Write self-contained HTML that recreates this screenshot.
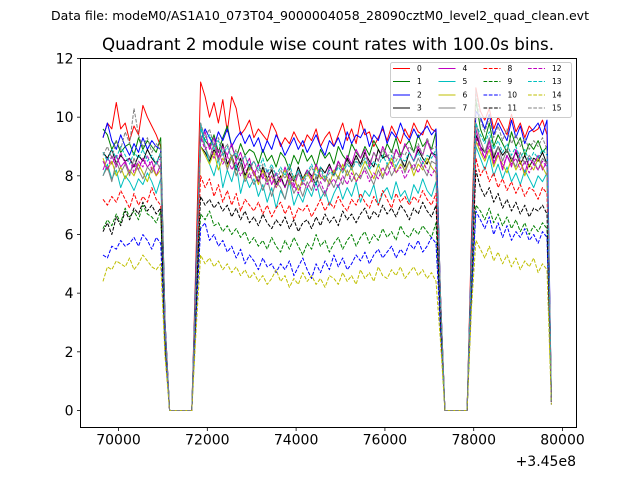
<!DOCTYPE html>
<html><head><meta charset="utf-8"><style>
body{margin:0;background:#fff;}
svg{display:block;font-family:"DejaVu Sans","Liberation Sans",sans-serif;}
</style></head><body>
<svg id="chart" width="640" height="480" viewBox="0 0 640 480">
<text x="320" y="20" font-size="12.5" text-anchor="middle" textLength="538" lengthAdjust="spacingAndGlyphs">Data file: modeM0/AS1A10_073T04_9000004058_28090cztM0_level2_quad_clean.evt</text>
<text x="328" y="50" font-size="16.5" text-anchor="middle" textLength="452" lengthAdjust="spacingAndGlyphs">Quadrant 2 module wise count rates with 100.0s bins.</text>
<g id="plot"></g>
<rect x="80.5" y="58.5" width="496" height="369" fill="none" stroke="#000" stroke-width="1"/>
<g id="axes"></g>
<g id="legend"></g>
<text x="576" y="466" font-size="14" text-anchor="end">+3.45e8</text>
</svg>
<script>
const tStart = 69650;
const binSize = 100;
const xTicks = [70000,72000,74000,76000,78000,80000];
const yTicks = [0,2,4,6,8,10,12];
const seriesNames = ["0","1","2","3","4","5","6","7","8","9","10","11","12","13","14","15"];
const seriesColors = ["#ff0000","#008000","#0000ff","#000000","#bf00bf","#00bfbf","#bfbf00","#808080","#ff0000","#008000","#0000ff","#000000","#bf00bf","#00bfbf","#bfbf00","#808080"];
const s0 = [9.3,9.8,9.6,10.5,9.6,9.8,9.2,9.7,9.4,10.4,10.0,9.7,9.4,9.0, 3.0, 0,0,0,0,0,0, 5.5,
11.2,10.7,10.0,10.5,9.8,10.6,9.5,10.7,10.3,9.4,9.6,9.9,9.3,9.6,9.4,9.2,9.8,9.5,9.0,9.3,9.1,9.5,9.2,9.0,9.4,9.2,9.6,9.0,9.3,9.5,9.0,9.4,9.8,9.2,9.6,9.1,9.9,9.4,9.5,9.0,9.3,9.6,9.2,9.7,9.4,9.1,9.6,9.3,9.8,9.5,9.4,9.9,9.6,9.5,
4.0, 0,0,0,0,0,0, 6.0, 11.0,10.2,9.9,10.3,9.6,10.0,9.7,9.4,10.1,9.5,9.8,9.3,9.7,9.5,9.6,9.9,9.4, 0.3];
const s1 = [9.6,9.4,8.9,9.2,8.8,9.0,9.1,8.7,9.3,8.9,9.2,9.0,8.8,9.3, 3.0, 0,0,0,0,0,0, 5.0,
9.6,9.2,9.0,9.4,8.8,9.3,9.7,9.0,8.6,9.1,8.7,8.9,8.8,8.4,8.9,8.5,8.7,8.3,8.8,8.6,8.2,8.7,8.4,8.9,8.5,8.7,8.3,8.9,8.6,8.8,8.4,9.0,8.7,8.5,9.1,8.8,8.6,9.0,8.7,9.2,8.9,8.6,9.1,8.8,9.3,8.7,9.0,9.2,8.8,9.4,9.0,9.2,8.9,9.5,
4.0, 0,0,0,0,0,0, 5.5, 10.6,9.6,9.2,9.8,9.0,9.4,9.1,8.8,9.5,9.0,9.3,8.7,9.1,8.9,9.2,8.8,9.0, 0.4];
const s2 = [9.3,9.8,9.2,8.9,9.4,9.0,8.7,9.1,8.8,9.3,8.9,9.2,9.0,8.9, 3.0, 0,0,0,0,0,0, 5.0,
9.2,9.6,9.3,9.0,9.5,9.2,9.6,9.0,9.3,9.5,9.1,9.4,9.0,9.3,8.8,9.2,8.9,9.4,9.1,8.7,9.0,9.3,8.9,9.2,8.8,9.1,9.4,9.0,8.7,9.2,9.0,9.3,8.9,9.5,9.1,9.4,9.3,9.6,9.0,9.4,9.2,9.7,9.1,9.5,9.3,9.8,9.4,9.2,9.6,9.3,9.5,9.7,9.4,9.6,
4.0, 0,0,0,0,0,0, 5.5, 10.2,10.0,9.6,10.1,9.4,9.8,9.5,9.2,9.9,9.3,9.7,9.1,9.5,9.6,9.8,9.4,9.9, 0.3];
const s3 = [8.8,8.6,8.9,8.4,8.7,8.5,8.6,8.3,8.7,8.5,8.9,8.6,8.4,8.8, 2.8, 0,0,0,0,0,0, 4.5,
9.0,8.8,8.5,8.9,8.6,9.1,8.4,8.7,8.2,8.6,8.0,8.4,8.1,7.8,8.3,7.9,8.2,7.7,8.0,7.6,8.1,7.8,8.3,7.9,8.2,8.0,7.7,8.3,8.1,8.4,8.0,8.5,8.2,8.6,8.3,8.7,8.4,8.8,8.5,8.3,8.9,8.6,8.7,8.4,8.9,8.6,8.3,8.8,8.5,8.9,8.6,8.4,8.8,8.7,
3.8, 0,0,0,0,0,0, 5.0, 9.4,9.0,8.8,9.2,8.6,9.0,8.7,8.9,8.5,8.8,8.4,8.7,8.3,8.6,8.5,8.8,8.4, 0.3];
const s4 = [8.2,8.6,8.4,8.7,8.3,8.5,8.1,8.4,8.2,8.6,8.3,8.5,8.0,8.4, 2.8, 0,0,0,0,0,0, 4.5,
9.2,9.5,8.9,9.3,8.6,9.0,8.7,9.1,8.5,8.8,8.3,8.6,8.0,8.4,7.9,8.2,7.7,8.1,7.8,8.3,7.9,7.6,8.1,7.8,8.2,7.9,8.4,8.0,7.8,8.3,8.1,8.5,8.2,8.7,8.4,8.9,8.6,8.9,8.3,8.8,8.5,9.0,8.7,8.4,8.9,8.6,9.1,8.8,8.5,9.0,8.7,9.2,8.8,8.6,
4.0, 0,0,0,0,0,0, 5.0, 9.6,9.0,8.6,9.2,8.4,8.8,8.2,8.7,8.3,8.9,8.5,8.1,8.6,8.4,8.7,8.2,8.5, 0.3];
const s5 = [8.0,8.4,7.9,8.2,7.6,8.0,7.8,7.5,7.9,7.7,8.1,7.8,7.4,7.9, 2.6, 0,0,0,0,0,0, 4.5,
9.8,9.0,8.4,8.0,8.6,7.6,8.2,7.8,8.4,7.4,8.0,7.6,7.9,7.3,7.7,7.1,7.6,6.9,7.5,7.2,7.8,7.0,7.4,7.1,7.6,7.3,7.8,7.2,7.5,7.0,7.4,7.7,7.2,7.6,7.3,7.8,7.1,7.5,7.3,7.7,7.0,7.4,7.6,7.2,7.8,7.3,7.5,7.1,7.7,7.4,7.9,7.5,7.3,7.8,
3.5, 0,0,0,0,0,0, 5.0, 9.0,8.6,8.2,8.7,8.0,8.4,7.9,8.3,7.8,8.1,7.7,8.2,7.9,7.6,8.0,7.8,8.1, 0.3];
const s6 = [8.6,8.2,8.5,8.0,8.3,7.9,8.2,8.0,8.4,8.1,7.8,8.3,8.0,8.2, 2.7, 0,0,0,0,0,0, 4.5,
9.0,8.7,8.4,8.8,8.2,8.6,8.3,8.7,8.0,8.4,7.9,8.3,8.1,7.7,8.2,7.8,8.0,7.6,7.9,8.2,7.7,8.0,7.5,7.9,8.1,7.8,8.3,7.9,8.0,7.7,8.2,7.9,8.4,8.0,8.3,7.8,8.1,8.5,8.2,7.9,8.4,8.0,8.3,8.6,8.1,8.4,8.2,8.5,8.0,8.4,8.2,8.6,8.3,8.1,
3.8, 0,0,0,0,0,0, 5.0, 9.2,8.8,8.5,8.9,8.3,8.7,8.4,8.1,8.6,8.2,8.5,8.0,8.4,8.2,8.6,8.3,8.0, 0.3];
const s7 = [8.0,8.3,7.8,8.5,8.1,8.4,8.0,8.6,8.2,7.9,8.3,8.1,8.5,8.2, 2.7, 0,0,0,0,0,0, 4.5,
9.4,9.0,8.6,9.1,8.5,8.8,8.2,8.6,8.0,8.4,7.8,8.1,7.7,8.0,7.5,7.9,7.3,7.8,7.6,7.2,7.9,7.4,7.7,7.3,7.8,7.5,8.0,7.6,7.3,7.9,7.6,8.0,7.7,8.2,7.8,8.1,7.9,8.3,8.0,7.7,8.2,7.9,8.4,8.0,8.3,8.6,8.1,8.5,8.2,8.6,8.3,8.0,8.5,8.4,
3.8, 0,0,0,0,0,0, 5.0, 9.8,9.2,8.8,9.3,8.7,9.0,8.5,8.9,8.6,8.3,8.8,8.4,8.7,8.5,8.2,8.6,8.4, 0.3];
const s8 = [7.2,7.0,7.3,7.1,7.5,7.2,6.9,7.4,7.0,7.3,7.1,7.6,7.2,7.0, 2.4, 0,0,0,0,0,0, 4.0,
8.0,7.6,7.9,7.3,7.7,7.1,7.5,7.0,7.4,6.8,7.2,7.0,6.8,7.1,6.7,7.0,6.6,6.9,7.1,6.7,7.0,6.5,6.9,6.8,7.0,6.6,6.9,7.2,6.8,7.1,6.9,7.3,7.0,6.8,7.2,7.0,7.4,7.1,6.9,7.3,7.0,7.5,7.2,6.9,7.4,7.1,7.3,7.0,7.3,7.1,7.5,7.2,7.0,7.4,
3.3, 0,0,0,0,0,0, 4.5, 8.6,8.0,8.3,7.8,8.1,7.6,7.9,7.5,7.8,7.4,7.7,7.3,7.6,7.5,7.2,7.6,7.4, 0.3];
const s9 = [6.2,6.5,6.3,6.7,6.4,6.9,6.6,6.8,6.5,7.0,6.7,6.6,6.4,6.8, 2.2, 0,0,0,0,0,0, 3.5,
6.7,6.5,6.8,6.3,6.4,6.1,6.3,6.0,6.2,5.9,6.1,5.7,5.9,5.6,5.8,5.5,5.9,5.6,5.4,5.8,5.5,5.9,5.6,5.3,5.7,5.5,6.0,5.6,5.8,5.4,5.7,5.9,5.5,5.8,6.0,5.6,5.9,6.1,5.7,6.0,5.8,6.2,5.9,6.1,5.8,6.3,6.0,5.9,6.2,6.0,6.3,6.1,5.9,6.4,
3.0, 0,0,0,0,0,0, 4.0, 7.0,6.8,6.5,6.9,6.4,6.7,6.3,6.6,6.2,6.5,6.1,6.4,6.0,6.3,6.1,6.4,6.2, 0.3];
const s10 = [5.3,5.2,5.6,5.5,5.8,5.6,5.7,5.9,5.6,6.0,5.8,5.5,5.9,5.7, 2.0, 0,0,0,0,0,0, 3.2,
6.2,6.4,5.8,6.0,5.6,5.8,5.4,5.6,5.2,5.5,5.0,5.3,5.1,4.8,5.2,4.9,5.0,4.7,5.0,4.8,5.1,4.6,4.9,5.2,4.8,4.5,5.0,4.7,5.1,4.8,5.3,4.9,5.2,4.8,5.0,5.3,5.1,5.4,5.0,5.3,5.5,5.2,5.4,5.6,5.2,5.5,5.3,5.7,5.5,5.8,5.4,5.6,5.9,5.7,
2.8, 0,0,0,0,0,0, 3.8, 6.8,6.5,6.2,6.6,6.0,6.4,5.9,6.3,5.8,6.1,5.9,6.2,5.8,6.0,5.7,6.1,5.9, 0.2];
const s11 = [6.1,6.4,6.0,6.6,6.3,6.8,6.5,6.9,6.7,7.1,6.8,7.0,6.7,6.9, 2.3, 0,0,0,0,0,0, 3.8,
7.3,7.0,7.2,6.9,7.1,6.8,7.0,6.6,6.9,6.5,6.8,6.4,6.6,6.3,6.7,6.4,6.2,6.5,6.3,6.6,6.2,6.5,6.1,6.4,6.5,6.2,6.6,6.3,6.7,6.4,6.6,6.3,6.8,6.5,6.7,6.4,6.7,6.9,6.5,6.8,6.6,7.0,6.7,6.9,6.6,7.0,6.8,6.5,6.9,6.7,7.1,6.8,6.6,7.0,
3.2, 0,0,0,0,0,0, 4.5, 8.2,7.6,7.3,7.6,7.1,7.4,6.9,7.2,6.8,7.1,6.7,7.0,6.6,6.9,6.8,7.0,6.7, 0.3];
const s12 = [8.5,8.2,8.7,8.3,8.8,8.4,8.6,8.1,8.5,8.3,8.7,8.2,8.4,8.6, 2.8, 0,0,0,0,0,0, 4.5,
9.3,8.9,9.1,8.6,8.9,8.4,8.7,8.2,8.5,8.0,8.3,7.9,8.2,7.8,8.1,7.7,8.0,7.6,7.9,7.6,8.0,7.7,7.4,7.8,7.6,7.9,7.5,7.8,7.4,7.7,7.9,7.6,8.0,7.7,8.1,7.8,8.0,8.2,7.8,8.1,7.9,8.3,8.0,8.4,8.1,8.3,7.9,8.2,8.4,8.1,8.5,8.2,8.0,8.3,
3.6, 0,0,0,0,0,0, 5.0, 9.3,8.9,8.6,9.0,8.5,8.8,8.3,8.7,8.4,8.6,8.2,8.5,8.1,8.4,8.2,8.5,8.3, 0.3];
const s13 = [8.8,8.5,8.9,8.6,9.0,8.7,8.4,8.8,8.6,8.9,8.5,8.7,8.4,8.8, 2.8, 0,0,0,0,0,0, 4.5,
9.6,9.2,9.4,8.9,9.2,8.7,9.0,8.6,8.8,8.4,8.7,8.3,8.5,8.2,8.6,8.1,8.4,8.0,8.3,8.0,8.4,7.9,8.2,7.8,8.1,8.4,8.0,8.3,7.9,8.2,8.0,8.3,8.1,8.4,8.2,8.5,8.3,8.6,8.2,8.5,8.3,8.7,8.4,8.7,8.3,8.6,8.5,8.8,8.5,8.8,8.4,8.7,8.6,8.9,
3.8, 0,0,0,0,0,0, 5.0, 9.8,9.4,9.1,9.5,8.9,9.2,8.8,9.1,8.7,9.0,8.6,8.9,8.5,8.8,8.6,8.9,8.7, 0.3];
const s14 = [4.4,4.9,4.8,5.1,5.0,4.9,5.2,4.8,5.0,5.3,5.1,4.9,4.8,5.0, 1.8, 0,0,0,0,0,0, 2.8,
5.3,5.0,5.2,4.9,5.1,4.8,5.0,4.7,4.9,4.6,4.8,4.5,4.7,4.4,4.6,4.3,4.5,4.8,4.4,4.6,4.2,4.5,4.3,4.7,4.4,4.6,4.3,4.5,4.2,4.6,4.5,4.3,4.7,4.4,4.6,4.3,4.8,4.5,4.7,4.4,4.9,4.6,4.5,4.8,4.6,4.9,4.5,4.7,4.9,4.6,4.8,4.5,4.7,4.4,
2.4, 0,0,0,0,0,0, 3.5, 5.8,5.5,5.2,5.6,5.1,5.4,5.0,5.3,4.9,5.2,4.8,5.1,4.9,5.2,4.7,5.0,4.8, 0.2];
const s15 = [8.7,9.0,8.6,9.2,8.9,9.5,9.1,10.3,9.4,9.0,9.3,8.8,9.1,8.9, 2.9, 0,0,0,0,0,0, 4.6,
9.8,9.3,9.6,9.0,9.3,8.8,9.1,8.6,8.9,8.4,8.7,8.2,8.5,8.1,8.4,7.9,8.3,7.8,8.2,7.9,8.3,7.8,8.1,7.7,8.0,8.3,7.9,8.2,7.8,8.1,8.0,8.4,8.1,8.5,8.2,8.6,8.3,8.7,8.4,8.8,8.5,8.9,8.6,8.9,8.5,8.8,8.7,9.0,8.8,9.1,8.7,9.3,8.9,9.0,
4.0, 0,0,0,0,0,0, 5.0, 10.9,9.9,9.5,10.0,9.3,9.7,9.2,9.6,9.1,9.4,9.0,9.3,8.9,9.2,9.0,9.3,8.9, 0.3];
const allSeries = [s0,s1,s2,s3,s4,s5,s6,s7,s8,s9,s10,s11,s12,s13,s14,s15];

const NS = "http://www.w3.org/2000/svg";
const PL = 80.5, PR = 576.5, PT = 58.5, PB = 427.5;
const xMin = 69144, xMax = 80315, yMin = -0.58, yMax = 12;
function xs(v){ return PL + (v - xMin) / (xMax - xMin) * (PR - PL); }
function ys(v){ return PB - (v - yMin) / (yMax - yMin) * (PB - PT); }
function mk(tag, attrs, parent){ const e = document.createElementNS(NS, tag); for (const k in attrs) e.setAttribute(k, attrs[k]); parent.appendChild(e); return e; }

const plot = document.getElementById('plot');
allSeries.forEach((arr, si) => {
  const pts = arr.map((v, i) => xs(tStart + i * binSize).toFixed(1) + ',' + ys(v).toFixed(1)).join(' ');
  const pl = mk('polyline', {points: pts, fill: 'none', stroke: seriesColors[si], 'stroke-width': 1, 'stroke-linejoin': 'round'}, plot);
  if (si >= 8) pl.setAttribute('stroke-dasharray', '3.7,1.6');
  
  
});

const axes = document.getElementById('axes');
xTicks.forEach(t => {
  const x = xs(t);
  const tk = mk('line', {x1: x, x2: x, y1: PB, y2: PB + 3.5, stroke: '#000', 'stroke-width': 0.8}, axes);
  
  
  const lb = mk('text', {x: x, y: PB + 17, 'font-size': 14, 'text-anchor': 'middle'}, axes);
  lb.textContent = String(t);
  
  
});
yTicks.forEach(t => {
  const y = ys(t);
  const tk = mk('line', {x1: PL - 3.5, x2: PL, y1: y, y2: y, stroke: '#000', 'stroke-width': 0.8}, axes);
  
  
  const lb = mk('text', {x: PL - 7, y: y + 5, 'font-size': 14, 'text-anchor': 'end'}, axes);
  lb.textContent = String(t);
  
  
});

const leg = document.getElementById('legend');
const box = mk('rect', {x: 390.5, y: 62.5, width: 181, height: 55, rx: 2, fill: '#fff', 'fill-opacity': 0.8, stroke: '#ccc', 'stroke-width': 1}, leg);


const colX = [393, 438.5, 483.5, 528];
const rowY = [68.5, 81.5, 95, 108];
seriesNames.forEach((n, si) => {
  const c = Math.floor(si / 4), r = si % 4;
  const g = mk('g', {}, leg);
  
  
  const ln = mk('line', {x1: colX[c], x2: colX[c] + 17, y1: rowY[r], y2: rowY[r], stroke: seriesColors[si], 'stroke-width': 1}, g);
  if (si >= 8) ln.setAttribute('stroke-dasharray', '3.7,1.6');
  const tx = mk('text', {x: colX[c] + 24, y: rowY[r] + 2.5, 'font-size': 7.5}, g);
  tx.textContent = n;
});
</script>
</body></html>
